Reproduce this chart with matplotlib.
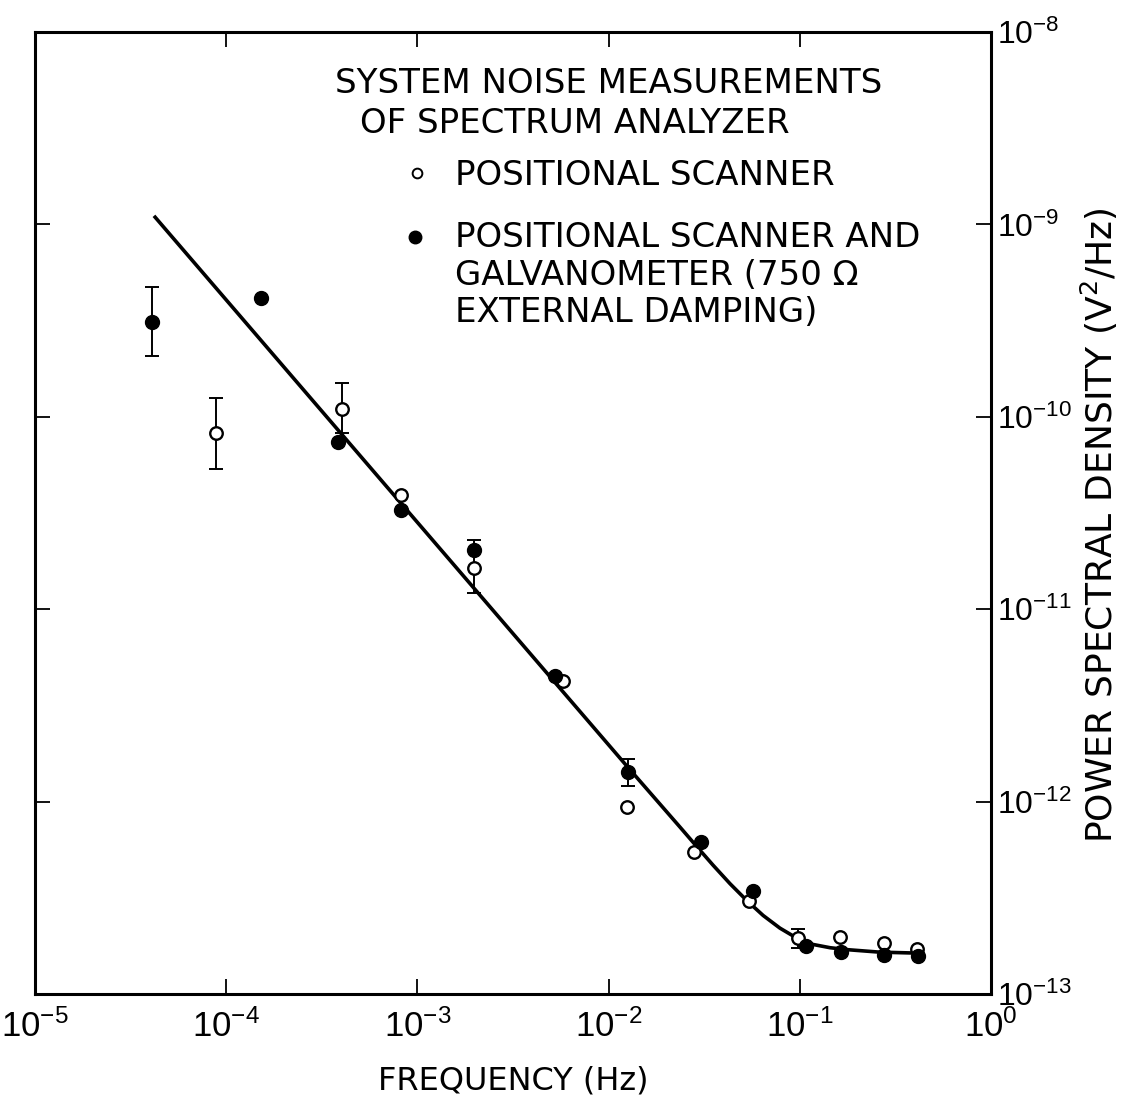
import numpy as np
import matplotlib.pyplot as plt

plt.rcParams['font.family'] = ['Liberation Sans', 'DejaVu Sans']

# positional scanner alone (open circles)
scanner_freq = [8.85e-5, 4.04e-4, 8.21e-4, 1.98e-3, 5.78e-3, 1.25e-2,
                2.80e-2, 5.42e-2, 9.77e-2, 0.162, 0.275, 0.410]
scanner_psd = [8.24e-11, 1.10e-10, 3.93e-11, 1.64e-11, 4.24e-12, 9.37e-13,
               5.47e-13, 3.04e-13, 1.95e-13, 1.98e-13, 1.84e-13, 1.71e-13]

# positional scanner + galvanometer, 750 ohm external damping (filled)
galvo_freq = [4.09e-5, 1.52e-4, 3.85e-4, 8.21e-4, 1.98e-3, 5.25e-3, 1.26e-2,
              3.04e-2, 5.69e-2, 0.108, 0.164, 0.275, 0.415]
galvo_psd = [3.11e-10, 4.14e-10, 7.40e-11, 3.28e-11, 2.03e-11, 4.50e-12,
             1.43e-12, 6.17e-13, 3.43e-13, 1.77e-13, 1.65e-13, 1.59e-13,
             1.57e-13]

# error bars (centre, lower end, upper end)
scanner_bar_freq = [8.85e-5, 4.04e-4, 1.98e-3, 9.77e-2]
scanner_bar_psd = [8.24e-11, 1.10e-10, 1.64e-11, 1.95e-13]
scanner_bar_lo = [5.36e-11, 8.24e-11, 1.21e-11, 1.73e-13]
scanner_bar_hi = [1.25e-10, 1.50e-10, 2.29e-11, 2.18e-13]

galvo_bar_freq = [4.09e-5, 1.26e-2]
galvo_bar_psd = [3.11e-10, 1.43e-12]
galvo_bar_lo = [2.07e-10, 1.20e-12]
galvo_bar_hi = [4.73e-10, 1.66e-12]

# fitted noise curve
fit_freq = [4.25e-5, 1.26e-2, 2.36e-2, 2.90e-2, 3.52e-2, 4.32e-2, 5.30e-2,
            6.43e-2, 7.87e-2, 9.66e-2, 0.117, 0.144, 0.177, 0.262, 0.426]
fit_psd = [1.09e-9, 1.51e-12, 7.38e-13, 5.82e-13, 4.67e-13, 3.74e-13,
           3.05e-13, 2.56e-13, 2.20e-13, 1.95e-13, 1.81e-13, 1.74e-13,
           1.70e-13, 1.65e-13, 1.63e-13]

xtick_exp = [-5, -4, -3, -2, -1, 0]
ytick_exp = [-13, -12, -11, -10, -9, -8]

W, H = 1124, 1109
fig = plt.figure(figsize=(W / 100, H / 100), dpi=100)
ax = fig.add_axes([35 / W, 1 - 994 / H, 956 / W, 962 / H])
ax.set_xscale('log')
ax.set_yscale('log')
ax.set_xlim(1e-5, 1)
ax.set_ylim(1e-13, 1e-8)

ax.plot(fit_freq, fit_psd, color='black', lw=2.6, zorder=2)


def bars(f, p, lo, hi):
    p = np.array(p)
    yerr = [p - np.array(lo), np.array(hi) - p]
    ax.errorbar(f, p, yerr=yerr, fmt='none', ecolor='black', elinewidth=1.4,
                capsize=5, capthick=1.4, zorder=3)


bars(scanner_bar_freq, scanner_bar_psd, scanner_bar_lo, scanner_bar_hi)
bars(galvo_bar_freq, galvo_bar_psd, galvo_bar_lo, galvo_bar_hi)

ax.plot(scanner_freq, scanner_psd, 'o', ms=9, mfc='white', mec='black',
        mew=1.7, zorder=4)
ax.plot(galvo_freq, galvo_psd, 'o', ms=10, color='black', zorder=5)

ax.set_xticks([10.0 ** e for e in xtick_exp])
ax.set_xticklabels([r'$\mathregular{10^{%d}}$' % e for e in xtick_exp])
ax.set_yticks([10.0 ** e for e in ytick_exp])
ax.set_yticklabels([r'$\mathregular{10^{%d}}$' % e for e in ytick_exp])
ax.minorticks_off()
ax.tick_params(which='major', direction='in', length=11, width=1.3,
               top=True, right=True, left=True, bottom=True)
ax.tick_params(axis='x', pad=11, labelsize=25)
ax.tick_params(axis='y', labelleft=False, labelright=True, pad=4,
               labelsize=23)
for s in ax.spines.values():
    s.set_linewidth(2.2)

ax.set_xlabel('FREQUENCY (Hz)', fontsize=23, family='DejaVu Sans',
              labelpad=16)
ax.yaxis.set_label_position('right')
ax.set_ylabel(r'POWER SPECTRAL DENSITY (V$\mathregular{^2}$/Hz)',
              fontsize=26, family='DejaVu Sans', rotation=90,
              ha='center', va='center')
ax.yaxis.set_label_coords((1099 - 35) / 956, 1 - (525 - 32) / 962)

# key, written inside the plot area
key_kw = dict(ha='left', va='baseline', fontsize=24.5, family='DejaVu Sans')
fig.text(335 / W, 1 - 93 / H, 'SYSTEM NOISE MEASUREMENTS', **key_kw)
fig.text(360 / W, 1 - 133 / H, 'OF SPECTRUM ANALYZER', **key_kw)
fig.text(455 / W, 1 - 185 / H, 'POSITIONAL SCANNER', **key_kw)
fig.text(455 / W, 1 - 247 / H, 'POSITIONAL SCANNER AND', **key_kw)
fig.text(455 / W, 1 - 285 / H, 'GALVANOMETER (750 \u03a9', **key_kw)
fig.text(455 / W, 1 - 322 / H, 'EXTERNAL DAMPING)', **key_kw)

ax.plot([(417 - 35) / 956], [1 - (173 - 32) / 962], 'o', ms=7, mfc='white',
        mec='black', mew=1.4, transform=ax.transAxes, clip_on=False)
ax.plot([(415 - 35) / 956], [1 - (237 - 32) / 962], 'o', ms=9,
        color='black', transform=ax.transAxes, clip_on=False)

fig.savefig('out.png', dpi=100)
